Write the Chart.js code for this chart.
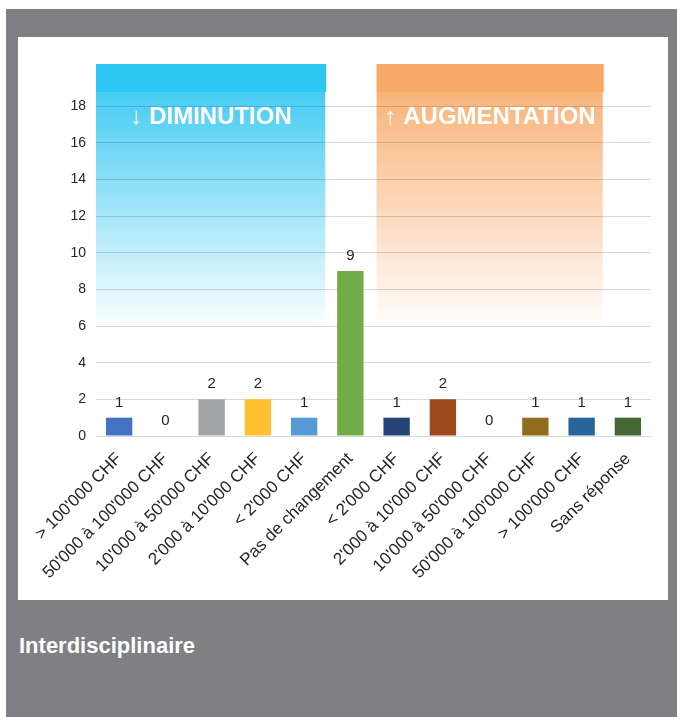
<!DOCTYPE html>
<html><head><meta charset="utf-8">
<script src="https://cdn.jsdelivr.net/npm/chart.js@4"></script>
<style>
html,body{margin:0;padding:0;background:#fff;width:677px;height:717px;overflow:hidden}
#bg{position:absolute;left:6px;top:9px;width:671px;height:708px;background:#808084}
#panel{position:absolute;left:18px;top:37px;width:650px;height:563px;background:#fff}
#title{position:absolute;left:19px;top:635px;font-weight:bold;font-size:22px;font-family:Arial,"Liberation Sans",Helvetica,sans-serif;line-height:22px;color:#fff;white-space:nowrap}
canvas{display:block}
</style>
</head><body>
<div id="bg"></div>
<div id="panel"><canvas id="c" width="650" height="563"></canvas></div>
<div id="title">Interdisciplinaire</div>
<script>
const categories = ["> 100'000 CHF","50'000 à 100'000 CHF","10'000 à 50'000 CHF","2'000 à 10'000 CHF","< 2'000 CHF","Pas de changement","< 2'000 CHF","2'000 à 10'000 CHF","10'000 à 50'000 CHF","50'000 à 100'000 CHF","> 100'000 CHF","Sans réponse"];
const values = [1,0,2,2,1,9,1,2,0,1,1,1];
const barColors = ["#4472C4","#ED7D31","#A2A4A6","#FFC12F","#579BD6","#70AD47","#274479","#9E4A1E","#636363","#8F6D1C","#27649A","#436834"];
const yMin = 0, yMax = 18, yStep = 2;
const groupLabels = ["↓ DIMINUTION","↑ AUGMENTATION"];
const groupFrom = [0,6];
const groupTo = [4,10];
const groupColors = [[45,197,241],[247,170,104]];

const FONT = 'Arial, "Liberation Sans", Helvetica, sans-serif';

function groupEdges(x, i){
  const half = (x.getPixelForValue(1)-x.getPixelForValue(0))/2;
  const inset = i === 0 ? 0 : 3;
  return [x.getPixelForValue(groupFrom[i]) - half + inset, x.getPixelForValue(groupTo[i]) + half - 1];
}

const groupPlugin = {
  id:'groups',
  beforeDraw(chart){
    const {ctx, chartArea:ca, scales:{x,y}} = chart;
    const top = ca.top - 42, band = ca.top - 14, end = y.getPixelForValue(6.2);
    ctx.save();
    groupLabels.forEach((lab,i)=>{
      const [l, r] = groupEdges(x, i);
      const c = groupColors[i].join(',');
      ctx.fillStyle = 'rgb('+c+')';
      ctx.fillRect(l, top, r-l, band-top);
      const g = ctx.createLinearGradient(0, band, 0, end);
      g.addColorStop(0, 'rgba('+c+',0.88)');
      g.addColorStop(1, 'rgba('+c+',0.03)');
      ctx.fillStyle = g;
      ctx.fillRect(l, band, r-l-1, end-band);
    });
    ctx.restore();
  },
  beforeDatasetsDraw(chart){
    const {ctx, chartArea:ca, scales:{x}} = chart;
    ctx.save();
    ctx.font = 'bold 24px ' + FONT;
    ctx.fillStyle = '#fff';
    ctx.textAlign = 'center';
    ctx.textBaseline = 'alphabetic';
    groupLabels.forEach((lab,i)=>{
      const [l, r] = groupEdges(x, i);
      ctx.fillText(lab, (l+r)/2, ca.top + 18);
    });
    ctx.restore();
  },
  afterDatasetsDraw(chart){
    const {ctx} = chart;
    const meta = chart.getDatasetMeta(0);
    ctx.save();
    ctx.font = '15px ' + FONT;
    ctx.fillStyle = '#262626';
    ctx.textAlign = 'center';
    ctx.textBaseline = 'middle';
    meta.data.forEach((bar,i)=>{
      ctx.fillText(String(values[i]), bar.x, bar.y - 15);
    });
    ctx.restore();
  }
};

new Chart(document.getElementById('c'), {
  type:'bar',
  data:{labels:categories, datasets:[{data:values, backgroundColor:barColors, borderWidth:0, barPercentage:0.57, categoryPercentage:1}]},
  options:{
    responsive:false, animation:false,
    layout:{padding:{top:69,right:17,left:0,bottom:0}},
    plugins:{legend:{display:false}, tooltip:{enabled:false}},
    scales:{
      x:{
        grid:{display:false, drawTicks:false},
        border:{display:true, color:'#D9D9D9', width:1},
        ticks:{color:'#262626', font:{family:FONT, size:17}, minRotation:45, maxRotation:45, autoSkip:false, padding:13},
        afterFit(s){ s.height = 164; }
      },
      y:{
        min:yMin, max:yMax,
        grid:{color:'rgba(0,0,0,0.15)', drawTicks:false},
        border:{display:false},
        ticks:{stepSize:yStep, color:'#262626', font:{family:FONT, size:14}, padding:10},
        afterFit(s){ s.width = 78; }
      }
    }
  },
  plugins:[groupPlugin]
});
</script>
</body></html>
